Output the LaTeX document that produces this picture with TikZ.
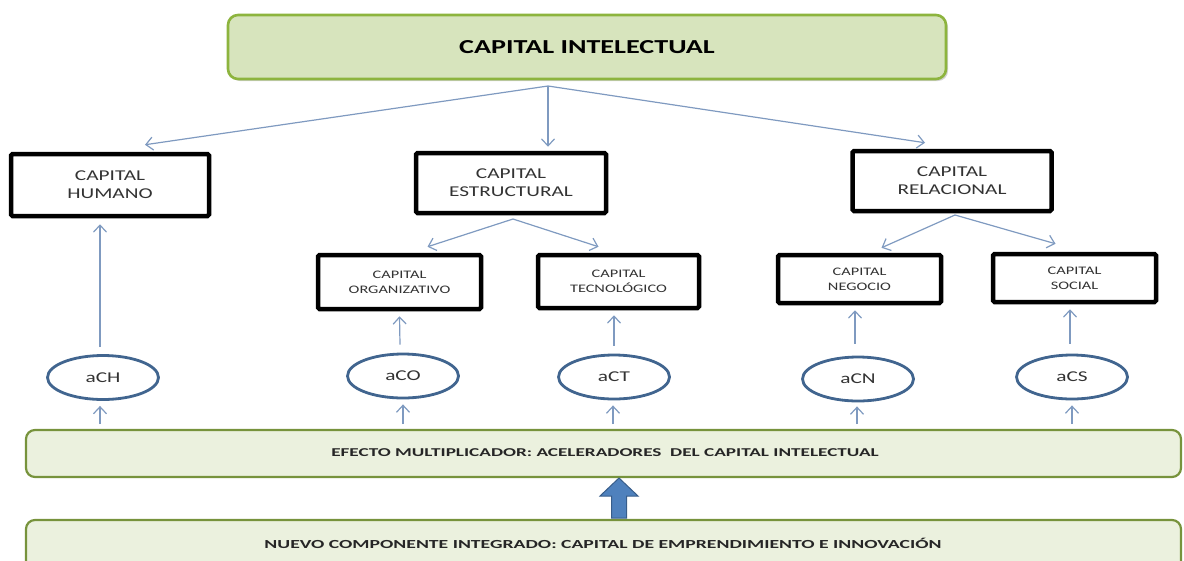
\documentclass[tikz,border=0pt]{standalone}
\usepackage{fontspec}
\setmainfont{Carlito}[FakeStretch=1.42]
\newfontfamily\panelfont{Carlito}[FakeStretch=1.6]
\usetikzlibrary{arrows.meta,shadows,shapes.geometric}
\definecolor{titlefill}{HTML}{D7E4BD}
\definecolor{titledraw}{HTML}{8DB43E}
\definecolor{panelfill}{HTML}{EBF1DE}
\definecolor{paneldraw}{HTML}{77933C}
\definecolor{arrowc}{HTML}{7F9AC0}
\definecolor{ellc}{HTML}{41658F}
\definecolor{blockfill}{HTML}{4F81BD}
\definecolor{blockdraw}{HTML}{385D8A}
\tikzset{
  bigbox/.style={draw=black, line width=4.5pt, rounded corners=1.5pt, align=center, inner sep=0pt,
    font=\fontsize{15}{18}\selectfont, text=black!80},
  smallbox/.style={draw=black, line width=4.5pt, rounded corners=1.5pt, align=center, inner sep=0pt,
    font=\fontsize{11.5}{15}\selectfont, text=black!80},
  accel/.style={draw=ellc, line width=2.8pt, ellipse, inner sep=0pt, font=\fontsize{15}{18}\selectfont, text=black!80},
  conn/.style={draw=arrowc, line width=1.2pt, -{Straight Barb[length=7pt,width=13pt]}},
  panel/.style={draw=paneldraw, fill=panelfill, line width=2.2pt, rounded corners=9pt},
}
\begin{document}
\begin{tikzpicture}[x=1pt,y=-1pt]
\useasboundingbox (0,0) rectangle (1184,560);
\clip (0,0) rectangle (1184,560);
% title
\node[draw=titledraw, fill=titlefill, line width=2.6pt, rounded corners=10pt,
  minimum width=718pt, minimum height=64pt, drop shadow={shadow xshift=2pt, shadow yshift=-2pt, opacity=0.35},
  font=\bfseries\fontsize{19.8}{22}\selectfont] (title) at (587,47) {CAPITAL INTELECTUAL};
% main boxes
\node[bigbox, minimum width=198pt, minimum height=62pt] (hum) at (110,185) {CAPITAL\\HUMANO};
\node[bigbox, minimum width=190pt, minimum height=60pt] (est) at (511,183) {CAPITAL\\ESTRUCTURAL};
\node[bigbox, minimum width=199pt, minimum height=60pt] (rel) at (952,181) {CAPITAL\\RELACIONAL};
% sub boxes
\node[smallbox, minimum width=163pt, minimum height=54pt] (org) at (399.5,282) {CAPITAL\\ORGANIZATIVO};
\node[smallbox, minimum width=161pt, minimum height=53pt] (tec) at (618.5,281.5) {CAPITAL\\TECNOLÓGICO};
\node[smallbox, minimum width=163pt, minimum height=48pt] (neg) at (859.5,279) {CAPITAL\\NEGOCIO};
\node[smallbox, minimum width=163pt, minimum height=48pt] (soc) at (1074.5,278) {CAPITAL\\SOCIAL};
% accelerators
\node[accel, minimum width=111pt, minimum height=44pt] (ach) at (103,377.5) {aCH};
\node[accel, minimum width=111pt, minimum height=44pt] (aco) at (403,376) {aCO};
\node[accel, minimum width=111pt, minimum height=44pt] (act) at (614,377) {aCT};
\node[accel, minimum width=111pt, minimum height=44pt] (acn) at (858,379) {\raisebox{-3pt}{aCN}};
\node[accel, minimum width=111pt, minimum height=44pt] (acs) at (1072,377) {aCS};
% panels
\draw[panel] (26,430) rectangle (1181,477);
\node[font=\panelfont\bfseries\fontsize{12}{15}\selectfont, text=black!85] (efecto) at (605,453) {EFECTO MULTIPLICADOR: ACELERADORES \ DEL CAPITAL INTELECTUAL};
\draw[panel] (26,520) rectangle (1181,590);
\node[font=\panelfont\bfseries\fontsize{12.3}{16}\selectfont, text=black!85] (nuevo) at (603,543) {NUEVO COMPONENTE INTEGRADO: CAPITAL DE EMPRENDIMIENTO E INNOVACIÓN};
% block arrow
\draw[fill=blockfill, draw=blockdraw, line width=1pt]
  (619,478) -- (638,496) -- (626.5,496) -- (626.5,518) -- (611.5,518) -- (611.5,496) -- (600,496) -- cycle;
% connectors from title
\coordinate (o1) at (548,86);
\draw[conn] (o1) -- ([xshift=35pt,yshift=7pt]hum.north);
\draw[conn] (o1) -- ([xshift=37pt,yshift=4pt]est.north);
\draw[conn] (o1) -- ([xshift=-27pt,yshift=6pt]rel.north);
% estructural split
\coordinate (o2) at (513,219);
\draw[conn] (o2) -- ([xshift=28pt,yshift=6pt]org.north);
\draw[conn] (o2) -- ([xshift=-20pt,yshift=6pt]tec.north);
\coordinate (o3) at (955,215);
\draw[conn] (o3) -- ([xshift=22pt,yshift=5pt]neg.north);
\draw[conn] (o3) -- ([xshift=-19pt,yshift=8pt]soc.north);
% accelerators up
\draw[conn] ([xshift=-3pt,yshift=7pt]ach.north) -- ([xshift=-10pt,yshift=-6pt]hum.south);
\draw[conn] ([xshift=-3pt,yshift=8pt]aco.north) -- ([yshift=-5pt]org.south);
\draw[conn] ([yshift=8pt]act.north) -- ([xshift=-4.5pt,yshift=-5pt]tec.south);
\draw[conn] ([xshift=-3pt,yshift=12pt]acn.north) -- ([xshift=-4.5pt,yshift=-5pt]neg.south);
\draw[conn] ([xshift=-2pt,yshift=10pt]acs.north) -- ([xshift=-4.5pt,yshift=-5pt]soc.south);
% panel to accelerators
\draw[conn] (100,424) -- ([xshift=-3pt,yshift=-5pt]ach.south);
\draw[conn] (403,424) -- ([yshift=-5pt]aco.south);
\draw[conn] (613,424) -- ([xshift=-1pt,yshift=-5pt]act.south);
\draw[conn] (857,424) -- ([xshift=-1pt,yshift=-4pt]acn.south);
\draw[conn] (1072,424) -- ([yshift=-5pt]acs.south);
\end{tikzpicture}
\end{document}
